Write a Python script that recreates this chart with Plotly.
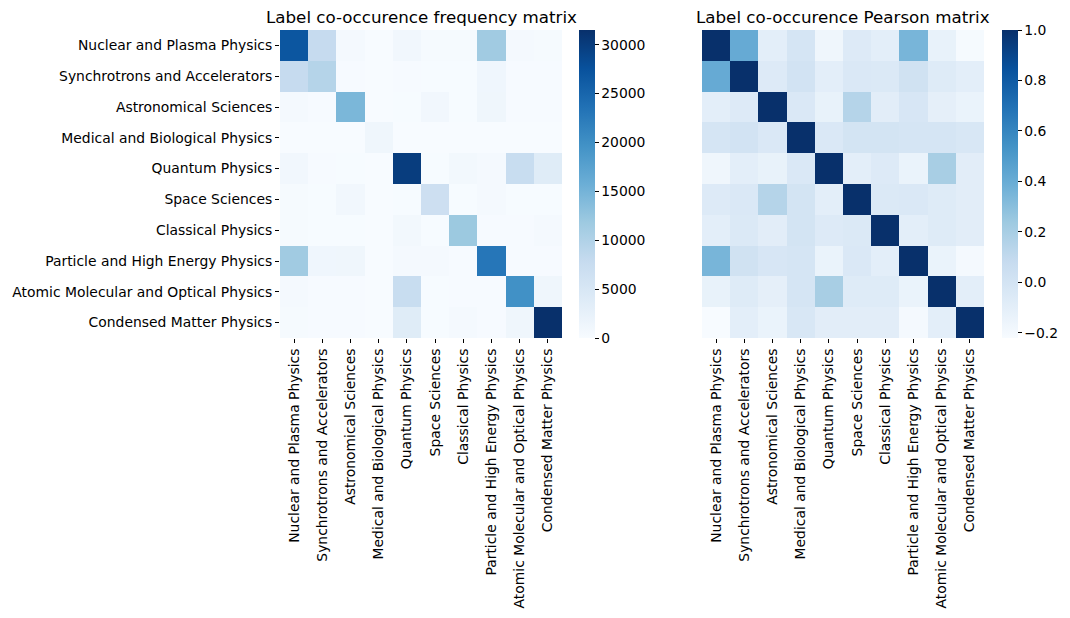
import plotly.graph_objects as go

labels = [
    "Nuclear and Plasma Physics",
    "Synchrotrons and Accelerators",
    "Astronomical Sciences",
    "Medical and Biological Physics",
    "Quantum Physics",
    "Space Sciences",
    "Classical Physics",
    "Particle and High Energy Physics",
    "Atomic Molecular and Optical Physics",
    "Condensed Matter Physics",
]

freq = [
    [27000, 7800, 500, 0, 1000, 300, 300, 11500, 500, 300],
    [7800, 9500, 150, 0, 150, 100, 100, 1200, 200, 150],
    [500, 150, 14500, 0, 100, 1000, 100, 1300, 150, 150],
    [0, 0, 0, 1300, 0, 0, 0, 0, 0, 0],
    [1000, 150, 100, 0, 30000, 100, 800, 500, 7500, 3800],
    [300, 100, 1000, 0, 100, 6800, 100, 400, 100, 100],
    [300, 100, 100, 0, 800, 100, 12000, 150, 200, 400],
    [11500, 1200, 1300, 0, 500, 400, 150, 23000, 150, 200],
    [500, 200, 150, 0, 7500, 100, 200, 150, 19800, 1300],
    [300, 150, 150, 0, 3800, 100, 400, 200, 1300, 31500],
]

pearson = [
    [1.00, 0.41, -0.10, -0.01, -0.17, -0.06, -0.10, 0.35, -0.13, -0.21],
    [0.41, 1.00, -0.06, 0.01, -0.10, -0.04, -0.05, 0.02, -0.07, -0.10],
    [-0.10, -0.06, 1.00, -0.04, -0.13, 0.15, -0.09, -0.02, -0.11, -0.14],
    [-0.01, 0.01, -0.04, 1.00, -0.04, 0.00, 0.00, -0.01, -0.01, -0.03],
    [-0.17, -0.10, -0.13, -0.04, 1.00, -0.10, -0.06, -0.14, 0.20, -0.09],
    [-0.06, -0.04, 0.15, 0.00, -0.10, 1.00, -0.05, -0.04, -0.07, -0.09],
    [-0.10, -0.05, -0.09, 0.00, -0.06, -0.05, 1.00, -0.10, -0.07, -0.09],
    [0.35, 0.02, -0.02, -0.01, -0.14, -0.04, -0.10, 1.00, -0.14, -0.20],
    [-0.13, -0.07, -0.11, -0.01, 0.20, -0.07, -0.07, -0.14, 1.00, -0.10],
    [-0.22, -0.10, -0.14, -0.03, -0.09, -0.09, -0.09, -0.20, -0.10, 1.00],
]

freq_ticks = [0, 5000, 10000, 15000, 20000, 25000, 30000]
pearson_ticks = [-0.2, 0.0, 0.2, 0.4, 0.6, 0.8, 1.0]

W, H = 1070, 618
FONT = dict(family="DejaVu Sans", size=13.9, color="black")
TITLE_FONT = dict(family="DejaVu Sans", size=16.7, color="black")

top, bottom = 30, 338
ydom = [1 - bottom / H, 1 - top / H]
cb_len = (bottom - top) / H
cb_y = 1 - (top + bottom) / 2 / H

fig = go.Figure()
fig.add_trace(go.Heatmap(
    z=freq, x=labels, y=labels, colorscale="Blues",
    zmin=min(min(r) for r in freq), zmax=max(max(r) for r in freq),
    xaxis="x", yaxis="y",
    colorbar=dict(x=579 / W, xanchor="left", y=cb_y, yanchor="middle", len=cb_len,
                  lenmode="fraction", thickness=16, outlinewidth=0,
                  ticks="outside", ticklen=4, tickwidth=1, tickcolor="black",
                  tickvals=freq_ticks, ticktext=[str(v) for v in freq_ticks],
                  tickfont=FONT, xpad=0, ypad=0),
))
fig.add_trace(go.Heatmap(
    z=pearson, x=labels, y=labels, colorscale="Blues",
    zmin=min(min(r) for r in pearson), zmax=max(max(r) for r in pearson),
    xaxis="x2", yaxis="y2",
    colorbar=dict(x=1002 / W, xanchor="left", y=cb_y, yanchor="middle", len=cb_len,
                  lenmode="fraction", thickness=16, outlinewidth=0,
                  ticks="outside", ticklen=4, tickwidth=1, tickcolor="black",
                  tickvals=pearson_ticks, tickformat=".1f", tickfont=FONT, xpad=0, ypad=0),
))

axis_common = dict(showgrid=False, zeroline=False, showline=False, ticks="outside",
                   ticklen=4, tickwidth=1, tickcolor="black", tickfont=FONT)

fig.update_layout(
    width=W, height=H,
    margin=dict(l=0, r=0, t=0, b=0),
    paper_bgcolor="white", plot_bgcolor="white",
    font=FONT,
    xaxis=dict(domain=[280 / W, 562 / W], anchor="y", tickangle=-90, **axis_common),
    yaxis=dict(domain=ydom, anchor="x", autorange="reversed", **axis_common),
    xaxis2=dict(domain=[702 / W, 984 / W], anchor="y2", tickangle=-90, **axis_common),
    yaxis2=dict(domain=ydom, anchor="x2", autorange="reversed", showticklabels=False,
                showgrid=False, zeroline=False, showline=False, ticks=""),
    annotations=[
        dict(text="Label co-occurence frequency matrix", x=(280 + 562) / 2 / W, y=1 - 17 / H,
             xref="paper", yref="paper", showarrow=False, font=TITLE_FONT,
             xanchor="center", yanchor="middle"),
        dict(text="Label co-occurence Pearson matrix", x=(702 + 984) / 2 / W, y=1 - 17 / H,
             xref="paper", yref="paper", showarrow=False, font=TITLE_FONT,
             xanchor="center", yanchor="middle"),
    ],
)

fig.write_html("out.html")
